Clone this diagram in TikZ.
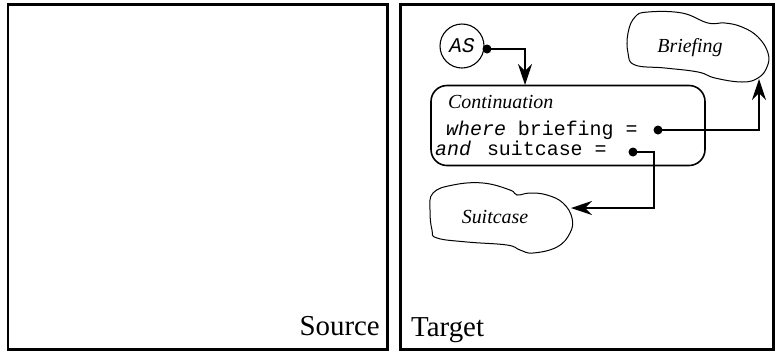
\documentclass[tikz,border=0pt]{standalone}
\usepackage{fontspec}
\setmainfont{Liberation Serif}
\setmonofont{Liberation Mono}
\usetikzlibrary{arrows.meta}
\begin{document}
\begin{tikzpicture}[x=1bp,y=-1bp,
  frame/.style={line width=2.6bp},
  conn/.style={line width=1.8bp,-{Stealth[length=21bp,width=14bp,inset=7bp]}},
  cloud/.style={line width=1bp},
  dotnode/.style={circle,fill=black,inner sep=0pt,minimum size=9bp},
  lbl/.style={font=\fontsize{20}{24}\selectfont\itshape, inner sep=0pt},
  mono/.style={font=\fontsize{20}{24}\selectfont\ttfamily, anchor=base west, inner sep=0pt},
  big/.style={font=\fontsize{29}{34}\selectfont, anchor=base west, inner sep=0pt}]
\useasboundingbox (0,0) rectangle (775,352);
% frames
\draw[frame] (8,4.5) rectangle (387.5,349.5);
\draw[frame] (400.5,4.5) rectangle (773.5,349.5);
\node[big, anchor=base east] (src) at (380,335) {Source};
\node[big] (tgt) at (411,336) {Target};
% AS circle
\node[circle, draw, line width=1.1bp, minimum size=44bp, inner sep=0pt,
      font=\fontsize{21}{24}\selectfont\ttfamily\itshape] (as) at (462,46) {AS};
\node[dotnode] (asdot) at (487,49) {};
% continuation box
\node[draw, rounded corners=16bp, line width=1.6bp, minimum width=274bp,
      minimum height=80bp, inner sep=0pt] (cont) at (568,125.5) {};
\node[lbl, anchor=base west] (conttitle) at (448,108) {Continuation};
\node[mono] (wb) at (446,135) {\textit{where} briefing =};
\node[mono] (sc) at (435,155.5) {\textit{and}\hspace{4bp} suitcase =};
\node[dotnode] (bdot) at (658,130) {};
\node[dotnode] (sdot) at (633,152) {};
% clouds
\draw[cloud] plot[smooth cycle, tension=0.7] coordinates {
  (635,17) (648,12) (682,13) (708,23) (725,23) (742,27) (758,37) (768,53)
  (767,67) (758,78) (742,82) (715,78) (698,72) (665,68) (635,65) (628,53) (628,33)};
\node[lbl] (brief) at (690,48) {Briefing};
\draw[cloud] plot[smooth cycle, tension=0.7] coordinates {
  (433,193) (453,185) (483,183) (510,190) (517,195) (530,193) (547,195) (563,203)
  (572,218) (570,233) (557,247) (533,253) (520,250) (507,245) (467,242) (437,238)
  (432,230) (430,210)};
\node[lbl] (suit) at (495,217) {Suitcase};
% connectors
\coordinate (asin) at (525,85);
\draw[conn] (asdot.center) -| (asin);
\coordinate (brin) at (759,79);
\draw[conn] (bdot.center) -| (brin);
\coordinate (scbend) at (654,208);
\coordinate (scin) at (571,208);
\draw[conn] (sdot.center) -| (scbend) -- (scin);
\end{tikzpicture}
\end{document}
